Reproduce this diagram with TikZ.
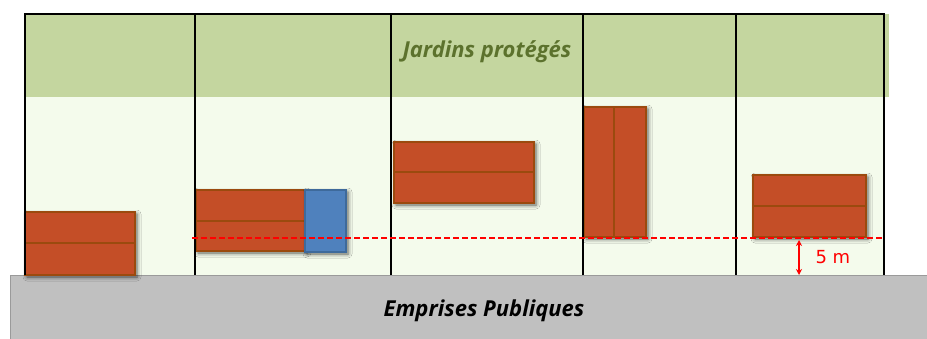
\documentclass[tikz,border=0pt]{standalone}
\usepackage{fontspec}
\setmainfont{Open Sans}
\newfontfamily\cotefont{DejaVu Sans}
\usepackage{xcolor}
\usetikzlibrary{calc,shadows.blur,arrows.meta}

\definecolor{jardin}{HTML}{C4D69F}
\definecolor{parcelle}{HTML}{F4FBEC}
\definecolor{voie}{HTML}{C0C0C0}
\definecolor{brique}{HTML}{C44E27}
\definecolor{briquebord}{HTML}{9B4A0E}
\definecolor{annexe}{HTML}{4F81BD}
\definecolor{annexebord}{HTML}{3E6A9B}
\definecolor{olive}{HTML}{5C722D}

\tikzset{
  bati/.style={fill=brique, draw=briquebord, line width=1.2pt,
    blur shadow={shadow xshift=2pt, shadow yshift=-2pt, shadow blur radius=4pt, shadow opacity=65}},
  limite/.style={line width=2.4pt, black},
}

\begin{document}
\begin{tikzpicture}[x=1pt,y=-1pt]
    \useasboundingbox (0,0) rectangle (927,338);
    % fonds
    \fill[parcelle] (25,97) rectangle (884,275);
    \fill[jardin] (25,14) rectangle (889,97);
    \filldraw[fill=voie, draw=voie!80!black, line width=0.8pt] (10,275) rectangle (930,340);
    % batiments
    \draw[bati] (25,212) rectangle (135,275);
    \draw[briquebord, line width=1.2pt] (25,243) -- (135,243);
    \draw[bati] (196,190) rectangle (305,251);
    \draw[briquebord, line width=1.2pt] (196,221) -- (305,221);
    \draw[bati, fill=annexe, draw=annexebord] (305,190) rectangle (346,252);
    \draw[bati] (394,142) rectangle (534,203);
    \draw[briquebord, line width=1.2pt] (394,172) -- (534,172);
    \draw[bati] (584,107) rectangle (646,237);
    \draw[briquebord, line width=1.2pt] (614,107) -- (614,237);
    \draw[bati] (753,175) rectangle (866,237);
    \draw[briquebord, line width=1.2pt] (753,206) -- (866,206);
    % limites
    \draw[limite] (25,275) -- (25,14) -- (884,14) -- (884,275);
    \foreach \x in {195,391,583,736}
        \draw[limite] (\x,14) -- (\x,275);
    % recul
    \draw[red, line width=1.3pt, dash pattern=on 6pt off 3pt] (192,238) -- (884,238);
    \coordinate (r1) at (799,240);
    \coordinate (r2) at (799,275);
    \draw[red, line width=1.3pt, {Stealth[length=6pt,width=6pt]}-{Stealth[length=6pt,width=6pt]}] (r1) -- (r2);
    \node[red, font=\cotefont\fontsize{18}{20}\selectfont, anchor=west] (recul) at (812,257) {5 m};
    % textes
    \node[olive, font=\fontsize{22}{26}\selectfont\bfseries\itshape] (jardins) at (487,52) {Jardins protégés};
    \node[black, font=\fontsize{22}{26}\selectfont\bfseries\itshape] (voirie) at (484,311) {Emprises Publiques};
\end{tikzpicture}
\end{document}
